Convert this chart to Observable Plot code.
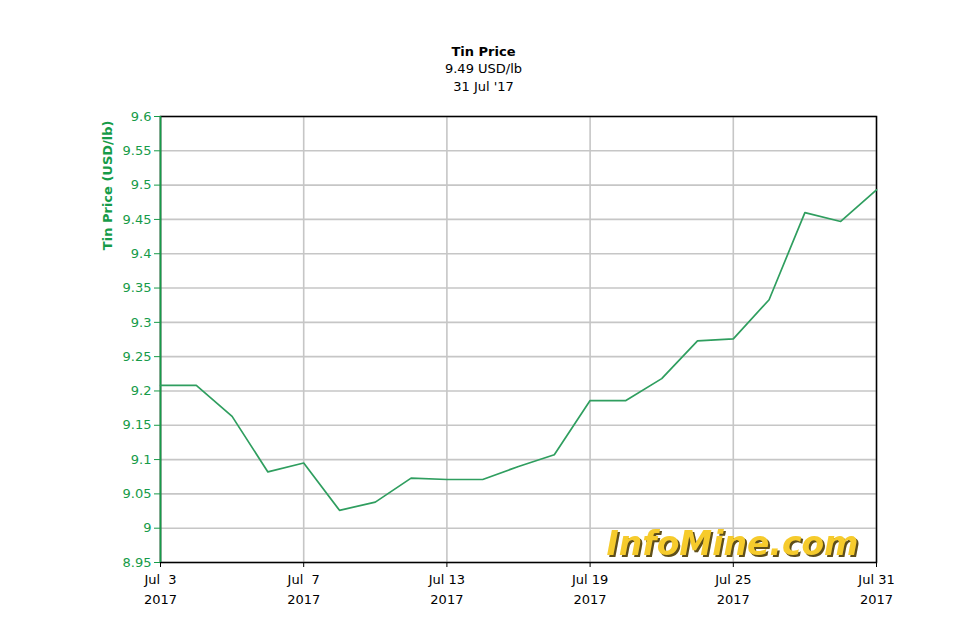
<!DOCTYPE html>
<html>
<head>
<meta charset="utf-8">
<script src="https://cdn.jsdelivr.net/npm/d3@7"></script>
<script src="https://cdn.jsdelivr.net/npm/@observablehq/plot@0.6"></script>
<style>
  html, body { margin: 0; padding: 0; background: #fff; }
  #chart { width: 980px; height: 640px; }
  .wm text { filter: drop-shadow(2px 2px 0 #5e4e1a); }
</style>
</head>
<body>
<div id="chart"></div>
<script>
const dates = ["2017-07-03","2017-07-04","2017-07-05","2017-07-06","2017-07-07",
  "2017-07-10","2017-07-11","2017-07-12","2017-07-13","2017-07-14",
  "2017-07-17","2017-07-18","2017-07-19","2017-07-20","2017-07-21",
  "2017-07-24","2017-07-25","2017-07-26","2017-07-27","2017-07-28","2017-07-31"];
const prices = [9.208,9.208,9.163,9.082,9.095,
  9.026,9.038,9.073,9.071,9.071,
  9.090,9.107,9.186,9.186,9.218,
  9.273,9.276,9.333,9.460,9.447,9.493];
const xTicks = ["2017-07-03","2017-07-07","2017-07-13","2017-07-19","2017-07-25","2017-07-31"];
const xTickLabels = ["Jul\u00a0\u00a03\n2017","Jul\u00a0\u00a07\n2017","Jul 13\n2017","Jul 19\n2017","Jul 25\n2017","Jul 31\n2017"];
const yTicks = [8.95,9,9.05,9.1,9.15,9.2,9.25,9.3,9.35,9.4,9.45,9.5,9.55,9.6];
const titleLines = ["Tin Price","9.49 USD/lb","31 Jul '17"];
const yLabel = "Tin Price (USD/lb)";
const watermark = "InfoMine.com";

const data = dates.map((d, i) => ({date: d, price: prices[i]}));
const green = "#169b48";
const lineGreen = "#2f9e5f";
const gridGray = "#c6c6c6";

const chart = Plot.plot({
  width: 980,
  height: 640,
  marginLeft: 160,
  marginRight: 104,
  marginTop: 116,
  marginBottom: 78,
  style: {fontFamily: "'DejaVu Sans', sans-serif", fontSize: "13px", background: "#fff"},
  x: {type: "point", domain: dates, padding: 0, round: false, label: null},
  y: {domain: [8.95, 9.6], label: null},
  marks: [
    Plot.gridY(yTicks, {stroke: gridGray, strokeOpacity: 1, strokeWidth: 1.6}),
    Plot.gridX(xTicks, {stroke: gridGray, strokeOpacity: 1, strokeWidth: 1.6}),
    Plot.text([watermark], {text: d => d, frameAnchor: "bottom-right", dx: -18, dy: -8, textAnchor: "end", lineAnchor: "bottom",
      fontSize: 33, fontWeight: "bold", fontStyle: "italic", fill: "#f6cb2c", className: "wm"}),
    Plot.frame({stroke: "#000", strokeWidth: 1.5}),
    Plot.ruleX([dates[0]], {stroke: green, strokeWidth: 1.6}),
    Plot.axisY(yTicks, {label: null, tickFormat: d => String(d), tickSize: 6, tickPadding: 3, fontSize: 13, color: green, stroke: green, fill: green}),
    Plot.axisX(xTicks, {label: null, tickFormat: d => xTickLabels[xTicks.indexOf(d)], tickSize: 5, tickPadding: 3, fontSize: 13, lineHeight: 1.5, stroke: "#000", fill: "#000"}),
    Plot.line(data, {x: "date", y: "price", stroke: lineGreen, strokeWidth: 1.7}),
    Plot.text([yLabel], {text: d => d, frameAnchor: "top-left", dx: -58, dy: 4, rotate: -90, textAnchor: "end",
      fontSize: 13, fontWeight: "bold", fill: green}),
    Plot.text([titleLines[0]], {text: d => d, frameAnchor: "top", dx: -35, dy: -70, fontSize: 13, fontWeight: "bold", fill: "#000"}),
    Plot.text([titleLines[1]], {text: d => d, frameAnchor: "top", dx: -35, dy: -53, fontSize: 13, fill: "#000"}),
    Plot.text([titleLines[2]], {text: d => d, frameAnchor: "top", dx: -35, dy: -35, fontSize: 13, fill: "#000"})
  ]
});
document.getElementById("chart").appendChild(chart);
</script>
</body>
</html>
